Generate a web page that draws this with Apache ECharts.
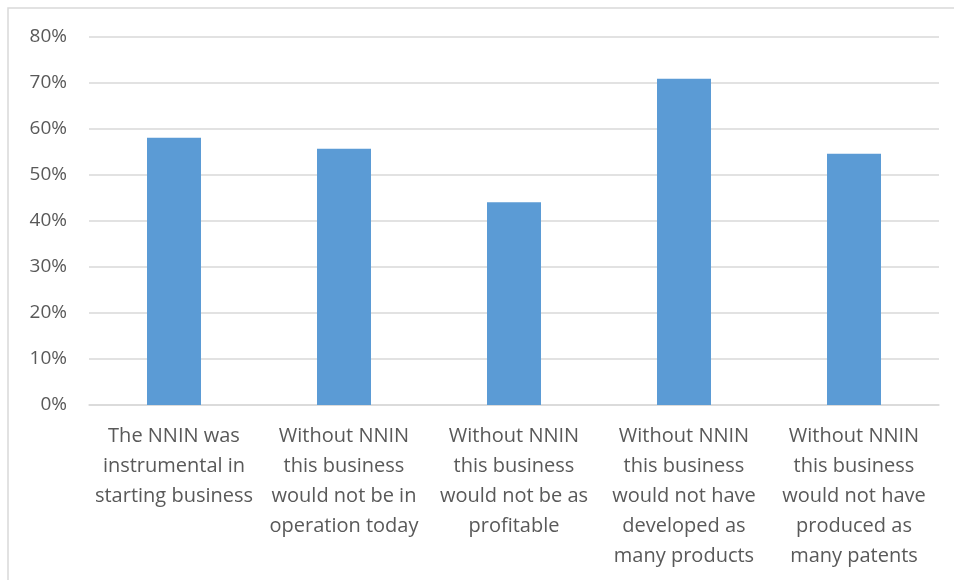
<!DOCTYPE html>
<html>
<head>
<meta charset="utf-8">
<script src="https://cdn.jsdelivr.net/npm/echarts@6/dist/echarts.min.js"></script>
<style>
  html, body { margin: 0; padding: 0; background: #fff; }
  #chart { width: 954px; height: 580px; }
</style>
</head>
<body>
<div id="chart"></div>
<script>
// categories as they wrap in the original
var categories = [
  'The NNIN was\ninstrumental in\nstarting business',
  'Without NNIN\nthis business\nwould not be in\noperation today',
  'Without NNIN\nthis business\nwould not be as\nprofitable',
  'Without NNIN\nthis business\nwould not have\ndeveloped as\nmany products',
  'Without NNIN\nthis business\nwould not have\nproduced as\nmany patents'
]
var values = [58.1, 55.7, 44.1, 70.9, 54.6]
var yTicks = [0, 10, 20, 30, 40, 50, 60, 70, 80]

var textColor = '#595959'
var font = '"Open Sans", sans-serif'

var chart = echarts.init(document.getElementById('chart'))
chart.setOption({
  animation: false,
  graphic: [{
    type: 'rect',
    shape: { x: 8, y: 8, width: 960, height: 600 },
    style: { fill: 'none', stroke: '#d9d9d9', lineWidth: 1.5 },
    silent: true
  }],
  grid: {
    left: 89,
    right: 15,
    top: 37,
    bottom: 175
  },
  xAxis: {
    type: 'category',
    data: categories,
    axisTick: { show: false },
    axisLine: { lineStyle: { color: '#d9d9d9', width: 1.5 } },
    axisLabel: {
      color: textColor,
      fontFamily: font,
      fontSize: 20,
      lineHeight: 30,
      margin: 16,
      interval: 0
    }
  },
  yAxis: {
    type: 'value',
    min: yTicks[0],
    max: yTicks[yTicks.length - 1],
    interval: 10,
    axisLine: { show: false },
    axisTick: { show: false },
    splitLine: { lineStyle: { color: '#d9d9d9', width: 1.5 } },
    axisLabel: {
      color: textColor,
      fontFamily: font,
      fontSize: 19,
      margin: 22,
      formatter: '{value}%'
    }
  },
  series: [{
    type: 'bar',
    data: values,
    barWidth: 54,
    itemStyle: { color: '#5b9bd5' }
  }]
})
</script>
</body>
</html>
